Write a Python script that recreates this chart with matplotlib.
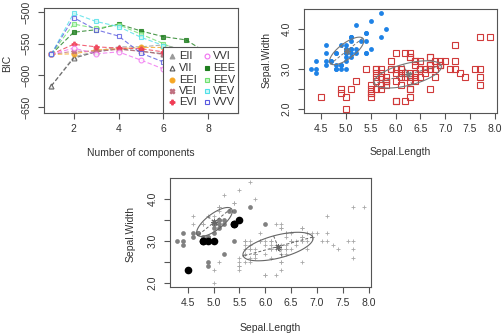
import numpy as np
import matplotlib
matplotlib.use("Agg")
import matplotlib.pyplot as plt
from matplotlib.patches import Rectangle

plt.rcParams['font.family'] = ['Liberation Sans', 'DejaVu Sans']

W, H = 503, 333

# BIC curves, number of mixture components 1..9
n_comp = [1, 2, 3, 4, 5, 6, 7, 8, 9]
bic_EII = [-617, -571, -562, -555, -555, -552, -560, -568, -575]
bic_VII = [-617, -573, -563, -558, -562, -566, -572, -580, -588]
bic_EEI = [-567, -566, -560, -558, -556, -556, -564, -572, -580]
bic_VEI = [-567, -562, -562, -559, -562, -567, -575, -582, -590]
bic_EVI = [-567, -551, -555, -557, -558, -563, -570, -578, -586]
bic_VVI = [-567, -557, -566, -563, -576, -590, -600, -610, -620]
bic_EEE = [-567, -532, -528, -519, -530, -539, -544, -566, -578]
bic_EEV = [-567, -519, -526, -520, -535, -550, -566, -578, -590]
bic_VEV = [-567, -502, -515, -523, -540, -553, -568, -582, -596]
bic_VVV = [-567, -509, -528, -538, -565, -579, -592, -605, -618]

# iris sepal measurements
sepal_length = [
    5.1, 4.9, 4.7, 4.6, 5.0, 5.4, 4.6, 5.0, 4.4, 4.9, 5.4, 4.8, 4.8, 4.3, 5.8, 5.7, 5.4, 5.1, 5.7, 5.1,
    5.4, 5.1, 4.6, 5.1, 4.8, 5.0, 5.0, 5.2, 5.2, 4.7, 4.8, 5.4, 5.2, 5.5, 4.9, 5.0, 5.5, 4.9, 4.4, 5.1,
    5.0, 4.5, 4.4, 5.0, 5.1, 4.8, 5.1, 4.6, 5.3, 5.0,
    7.0, 6.4, 6.9, 5.5, 6.5, 5.7, 6.3, 4.9, 6.6, 5.2, 5.0, 5.9, 6.0, 6.1, 5.6, 6.7, 5.6, 5.8, 6.2, 5.6,
    5.9, 6.1, 6.3, 6.1, 6.4, 6.6, 6.8, 6.7, 6.0, 5.7, 5.5, 5.5, 5.8, 6.0, 5.4, 6.0, 6.7, 6.3, 5.6, 5.5,
    5.5, 6.1, 5.8, 5.0, 5.6, 5.7, 5.7, 6.2, 5.1, 5.7,
    6.3, 5.8, 7.1, 6.3, 6.5, 7.6, 4.9, 7.3, 6.7, 7.2, 6.5, 6.4, 6.8, 5.7, 5.8, 6.4, 6.5, 7.7, 7.7, 6.0,
    6.9, 5.6, 7.7, 6.3, 6.7, 7.2, 6.2, 6.1, 6.4, 7.2, 7.4, 7.9, 6.4, 6.3, 6.1, 7.7, 6.3, 6.4, 6.0, 6.9,
    6.7, 6.9, 5.8, 6.8, 6.7, 6.7, 6.3, 6.5, 6.2, 5.9]
sepal_width = [
    3.5, 3.0, 3.2, 3.1, 3.6, 3.9, 3.4, 3.4, 2.9, 3.1, 3.7, 3.4, 3.0, 3.0, 4.0, 4.4, 3.9, 3.5, 3.8, 3.8,
    3.4, 3.7, 3.6, 3.3, 3.4, 3.0, 3.4, 3.5, 3.4, 3.2, 3.1, 3.4, 4.1, 4.2, 3.1, 3.2, 3.5, 3.6, 3.0, 3.4,
    3.5, 2.3, 3.2, 3.5, 3.8, 3.0, 3.8, 3.2, 3.7, 3.3,
    3.2, 3.2, 3.1, 2.3, 2.8, 2.8, 3.3, 2.4, 2.9, 2.7, 2.0, 3.0, 2.2, 2.9, 2.9, 3.1, 3.0, 2.7, 2.2, 2.5,
    3.2, 2.8, 2.5, 2.8, 2.9, 3.0, 2.8, 3.0, 2.9, 2.6, 2.4, 2.4, 2.7, 2.7, 3.0, 3.4, 3.1, 2.3, 3.0, 2.5,
    2.6, 3.0, 2.6, 2.3, 2.7, 3.0, 2.9, 2.9, 2.5, 2.8,
    3.3, 2.7, 3.0, 2.9, 3.0, 3.0, 2.5, 2.9, 2.5, 3.6, 3.2, 2.7, 3.0, 2.5, 2.8, 3.2, 3.0, 3.8, 2.6, 2.2,
    3.2, 2.8, 2.8, 2.7, 3.3, 3.2, 2.8, 3.0, 2.8, 3.0, 2.8, 3.8, 2.8, 2.8, 2.6, 3.0, 3.4, 3.1, 3.0, 3.1,
    3.1, 3.1, 2.7, 3.2, 3.3, 3.0, 2.5, 3.0, 3.4, 3.0]

# classification (1-based row numbers in cluster 1), rest is cluster 2
cluster1_rows = list(range(1, 42)) + list(range(43, 51))
# uncertainty groups
unc_high_rows = [2, 13, 21, 26, 32, 37, 42, 46]
unc_mid_rows = [1, 3, 4, 8, 9, 10, 11, 14, 18, 19, 24, 27, 28, 29, 30, 31, 35, 36, 39, 40,
                43, 48, 49, 50, 58, 60, 85, 86, 107]

# component means / covariances
mean1 = [5.016, 3.451]
cov1 = [[0.119, 0.0875], [0.0875, 0.118]]
mean2 = [6.245, 2.866]
cov2 = [[0.46, 0.13], [0.13, 0.115]]

sepal_xticks = [4.5, 5.0, 5.5, 6.0, 6.5, 7.0, 7.5, 8.0]
sepal_yticks = [2.0, 2.5, 3.0, 3.5, 4.0]
sepal_ylabels = ["2.0", "", "3.0", "", "4.0"]

fig = plt.figure(figsize=(W / 100, H / 100), dpi=100)
fig.patch.set_facecolor("white")


def px_axes(left, top, right, bottom):
    return fig.add_axes([left / W, 1 - bottom / H, (right - left) / W, (bottom - top) / H])


def r_style(ax):
    for s in ax.spines.values():
        s.set_color("#555555")
        s.set_linewidth(0.8)
    ax.tick_params(direction="out", length=4, width=0.8, color="#555555",
                   labelsize=7.5, labelcolor="#333333", pad=4)
    ax.tick_params(axis="y", pad=5)
    plt.setp(ax.get_yticklabels(), rotation=90, va="center")


def ftext(x, y, s, rot=0):
    fig.text(x / W, 1 - y / H, s, ha="center", va="center", rotation=rot,
             fontsize=7.5, color="#333333")


def draw_ellipse(ax, mu, cov, color):
    mu = np.array(mu)
    vals, vecs = np.linalg.eigh(np.array(cov))
    order = vals.argsort()[::-1]
    vals, vecs = vals[order], vecs[:, order]
    s = np.sqrt(vals)
    t = np.linspace(0, 2 * np.pi, 120)
    pts = mu[:, None] + vecs @ np.vstack([s[0] * np.cos(t), s[1] * np.sin(t)])
    ax.plot(pts[0], pts[1], color=color, lw=0.8, zorder=4)
    for k in range(2):
        a = mu - s[k] * vecs[:, k]
        b = mu + s[k] * vecs[:, k]
        ax.plot([a[0], b[0]], [a[1], b[1]], color=color, lw=0.7, ls=(0, (3, 2)), zorder=4)
    ax.plot(mu[0], mu[1], marker=(8, 2, 0), ms=5, color=color, mew=0.7, zorder=4)


def sepal_axes(ax):
    ax.set_xlim(4.156, 8.044)
    ax.set_ylim(1.904, 4.496)
    ax.set_xticks(sepal_xticks)
    ax.set_yticks(sepal_yticks)
    ax.set_yticklabels(sepal_ylabels)
    r_style(ax)


# ---------- BIC plot ----------
ax1 = px_axes(44, 8, 238, 113)
series = [
    ("EII", bic_EII, "#9a9a9a", dict(marker="^")),
    ("VII", bic_VII, "#555555", dict(marker="^", mfc="white")),
    ("EEI", bic_EEI, "#f5a623", dict(marker="o")),
    ("VEI", bic_VEI, "#c07080", dict(marker="X")),
    ("EVI", bic_EVI, "#f03c55", dict(marker="P")),
    ("VVI", bic_VVI, "#f070f0", dict(marker="o", mfc="white")),
    ("EEE", bic_EEE, "#1e7e1e", dict(marker="s")),
    ("EEV", bic_EEV, "#70e070", dict(marker="s", mfc="#c8f8c8")),
    ("VEV", bic_VEV, "#50e0e8", dict(marker="s", mfc="#d0f8f8")),
    ("VVV", bic_VVV, "#5a5ae0", dict(marker="s", mfc="white")),
]
for name, vals, col, mk in series:
    ax1.plot(n_comp, vals, color=col, lw=0.8, alpha=0.8, ls=(0, (4, 2)), ms=3.5, mew=0.8,
             mec=col, mfc=mk.get("mfc", col), marker=mk["marker"])
ax1.set_xlim(0.68, 9.32)
ax1.set_ylim(-659.5, -493.7)
ax1.set_xticks([2, 4, 6, 8])
ax1.set_yticks([-650, -600, -550, -500])
r_style(ax1)

# legend box
lx0 = (163 - 44) / 194
ly1 = (113 - 47) / 105
ax1.add_patch(Rectangle((lx0, 0), 1 - lx0, ly1, transform=ax1.transAxes,
                        facecolor="white", edgecolor="#555555", lw=0.8, zorder=10, clip_on=False))
rows_y = [(113 - y) / 105 for y in (56, 68, 80, 91, 102)]
for i, (name, vals, col, mk) in enumerate(series):
    c = i // 5
    r = i % 5
    mx = (172 - 44) / 194 if c == 0 else (207 - 44) / 194
    tx = (179 - 44) / 194 if c == 0 else (213 - 44) / 194
    ax1.plot([mx], [rows_y[r]], transform=ax1.transAxes, ls="none", marker=mk["marker"],
             ms=3.5, mew=0.8, mec=col, mfc=mk.get("mfc", col), zorder=11, clip_on=False)
    ax1.text(tx, rows_y[r], name, transform=ax1.transAxes, ha="left", va="center",
             fontsize=8, color="#333333", zorder=11)

ftext(141, 153, "Number of components")
ftext(7, 63, "BIC", rot=90)

# ---------- classification plot ----------
sl = np.array(sepal_length)
sw = np.array(sepal_width)
in1 = np.zeros(len(sl), dtype=bool)
in1[np.array(cluster1_rows) - 1] = True

ax2 = px_axes(304, 9, 497, 113)
ax2.plot(sl[in1], sw[in1], ls="none", marker="o", ms=3.5, color="#1e82e6", mec="none")
ax2.plot(sl[~in1], sw[~in1], ls="none", marker="s", ms=4.0, mfc="none", mec="#d03a3a", mew=0.8)
draw_ellipse(ax2, mean1, cov1, "#777777")
draw_ellipse(ax2, mean2, cov2, "#777777")
sepal_axes(ax2)
ftext(400, 152, "Sepal.Length")
ftext(267, 60, "Sepal.Width", rot=90)

# ---------- uncertainty plot ----------
hi = np.zeros(len(sl), dtype=bool)
hi[np.array(unc_high_rows) - 1] = True
mid = np.zeros(len(sl), dtype=bool)
mid[np.array(unc_mid_rows) - 1] = True
low = ~(hi | mid)

ax3 = px_axes(170, 178, 371, 287)
ax3.plot(sl[low], sw[low], ls="none", marker="+", ms=2.2, mew=0.6, color="#a8a8a8")
ax3.plot(sl[mid], sw[mid], ls="none", marker="o", ms=3.4, color="#808080", mec="none")
ax3.plot(sl[hi], sw[hi], ls="none", marker="o", ms=5.5, color="black", mec="none")
draw_ellipse(ax3, mean1, cov1, "#666666")
draw_ellipse(ax3, mean2, cov2, "#666666")
sepal_axes(ax3)
ftext(270, 328, "Sepal.Length")
ftext(131, 234, "Sepal.Width", rot=90)

fig.savefig("out.png", dpi=100)
